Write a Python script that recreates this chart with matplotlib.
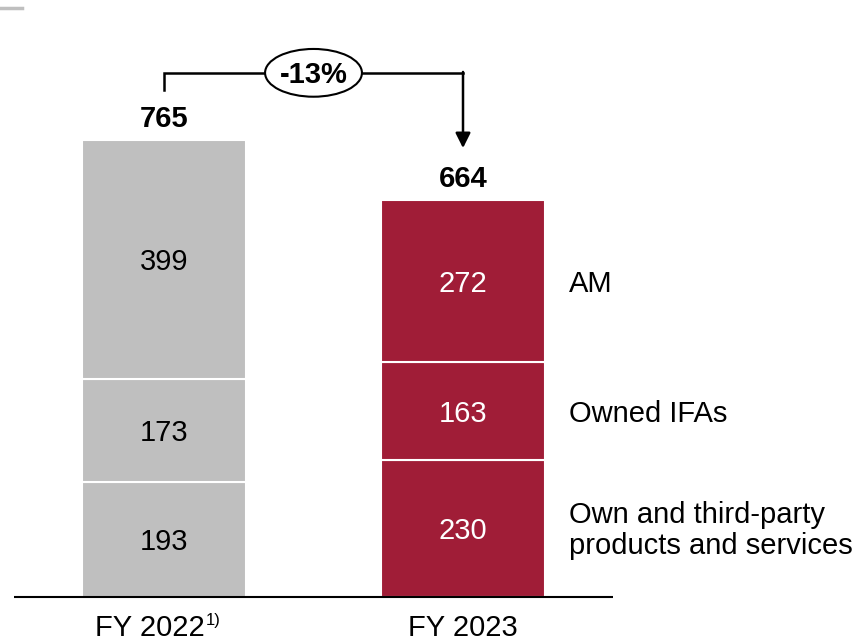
import matplotlib
matplotlib.use("Agg")
import matplotlib.pyplot as plt
from matplotlib.patches import Ellipse
import numpy as np

plt.rcParams['font.family'] = ['Liberation Sans', 'DejaVu Sans']

categories = ["FY 2022", "FY 2023"]
segments = ["Own and third-party\nproducts and services", "Owned IFAs", "AM"]
products = [193, 230]
ifas = [173, 163]
am = [399, 272]
totals = [765, 664]
change_label = "-13%"
bar_colors = ["#bfbfbf", "#a01d37"]
text_colors = ["#000000", "#ffffff"]

FS = 21

fig = plt.figure(figsize=(8.59, 6.4), dpi=100)
ax = fig.add_axes([0, 0, 1, 1])
ax.set_xlim(-0.5485, 2.3244)
ax.set_ylim(-72, 1000)
ax.axis("off")


def label(xv, yv, s, size=FS, ha="center", **kw):
    # vertically centre the cap height on (xv, yv)
    ax.annotate(s, (xv, yv), xytext=(0, -0.36 * size), textcoords="offset points",
                ha=ha, va="baseline", fontsize=size, **kw)


x = np.arange(len(categories))
width = 0.5485
bottom = np.zeros(len(categories))
for vals in [products, ifas, am]:
    ax.bar(x, vals, width, bottom=bottom, color=bar_colors,
           edgecolor="white", linewidth=1.5)
    for i, (v, b) in enumerate(zip(vals, bottom)):
        label(x[i], b + v / 2, str(v), color=text_colors[i])
    bottom = bottom + np.array(vals)

# totals
for i, t in enumerate(totals):
    label(x[i], bottom[i] + 40, str(t), fontweight="bold")

# baseline
ax.plot([-0.5016, 1.5017], [0, 0], color="black", linewidth=1.5,
        solid_capstyle="butt")

# top-left decoration
fig.add_artist(plt.Line2D([0, 22 / 859], [1 - 8 / 640, 1 - 8 / 640],
                          color="#bfbfbf", linewidth=2.5))

# segment labels on the right
seg_mid = []
b = 0
for v in [products[1], ifas[1], am[1]]:
    seg_mid.append(b + v / 2)
    b += v
for lab, ym in zip(segments, seg_mid):
    lines = lab.split("\n")
    n = len(lines)
    step = 52  # data units between lines
    for k, ln in enumerate(lines):
        yl = ym + (n - 1) / 2 * step - k * step
        label(1.3545, yl, ln, ha="left")

# bracket with arrow
yb = 878
ax.plot([x[0], x[0], x[1]], [bottom[0] + 84, yb, yb], color="black",
        linewidth=1.8, solid_joinstyle="miter")
ax.annotate("", xy=(x[1], bottom[1] + 87), xytext=(x[1], yb + 1.5),
            arrowprops=dict(arrowstyle="-|>,head_length=0.9,head_width=0.45",
                            color="black", linewidth=1.8,
                            shrinkA=0, shrinkB=0))
ell = Ellipse((0.5, yb), 0.324, 80, facecolor="white", edgecolor="black",
              linewidth=1.5, zorder=3)
ax.add_patch(ell)
ax.annotate(change_label, (0.5, yb), xytext=(0, -0.36 * FS),
            textcoords="offset points", ha="center", va="baseline",
            fontsize=FS, fontweight="bold", zorder=4)

# category labels
label(x[0] + (205 - 164) / 299, -47, categories[0], ha="right")
label(x[0] + (206 - 164) / 299, -37, "1)", size=12, ha="left")
label(x[1], -47, categories[1])

fig.savefig("out.png", dpi=100)
